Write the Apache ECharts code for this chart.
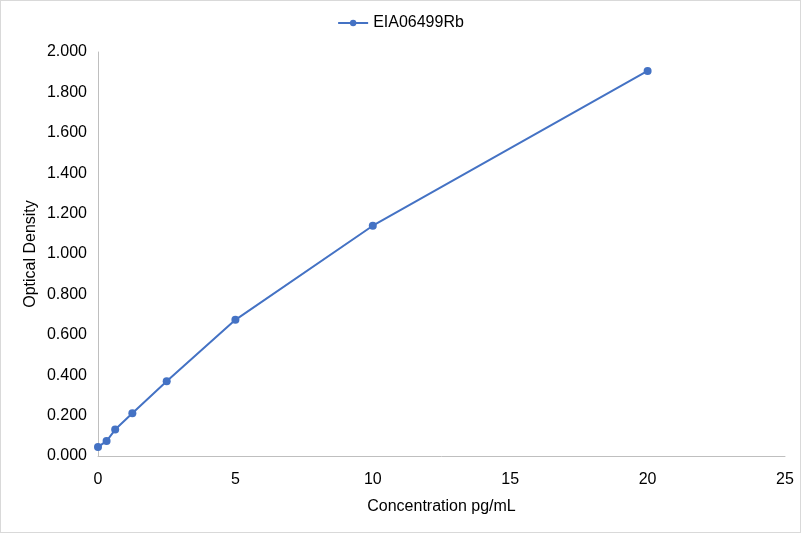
<!DOCTYPE html>
<html>
<head>
    <meta charset="UTF-8">
    <title>EIA06499Rb</title>
    <script src="https://cdn.jsdelivr.net/npm/echarts@6/dist/echarts.min.js"></script>
    <style type="text/css">
    * { margin: 0; padding: 0; }
    body { background-color: #fff; }
    .box {
        width: 799px;
        height: 531px;
        border: 1px solid #d9d9d9;
    }
    </style>
</head>
<body>
    <div id="chart" class="box"></div>
    <script>
        // data
        var seriesName = 'EIA06499Rb';
        var conc = [0, 0.3125, 0.625, 1.25, 2.5, 5, 10, 20];
        var od = [0.045, 0.074, 0.131, 0.212, 0.370, 0.674, 1.140, 1.906];

        var points = conc.map(function (c, i) { return [c, od[i]]; });

        var chart = echarts.init(document.getElementById('chart'), null, {renderer: 'canvas'});
        chart.setOption({
            animation: false,
            textStyle: { fontFamily: 'Liberation Sans, Arial, sans-serif' },
            legend: {
                top: 9,
                left: 'center',
                itemWidth: 30,
                itemHeight: 8,
                itemGap: 6,
                textStyle: { fontSize: 16, color: '#000' },
                data: [seriesName]
            },
            grid: { left: 97, right: 15, top: 51, bottom: 76, containLabel: false },
            xAxis: {
                type: 'value',
                min: 0, max: 25, interval: 5,
                name: 'Concentration pg/mL',
                nameLocation: 'middle',
                nameGap: 43,
                nameTextStyle: { fontSize: 16, color: '#000' },
                axisLine: { lineStyle: { color: '#bfbfbf' } },
                axisTick: { show: false },
                splitLine: { show: false },
                axisLabel: { fontSize: 16, color: '#000', margin: 16 }
            },
            yAxis: {
                type: 'value',
                min: 0, max: 2, interval: 0.2,
                name: 'Optical Density',
                nameLocation: 'middle',
                nameGap: 59,
                nameMoveOverlap: false,
                nameTextStyle: { fontSize: 16, color: '#000' },
                axisLine: { show: true, lineStyle: { color: '#bfbfbf' } },
                axisTick: { show: false },
                splitLine: { show: false },
                axisLabel: {
                    fontSize: 16, color: '#000', margin: 11,
                    formatter: function (v) { return v.toFixed(3); }
                }
            },
            series: [{
                name: seriesName,
                type: 'line',
                data: points,
                symbol: 'circle',
                symbolSize: 8,
                lineStyle: { color: '#4472c4', width: 2 },
                itemStyle: { color: '#4472c4' }
            }]
        });
    </script>
</body>
</html>
